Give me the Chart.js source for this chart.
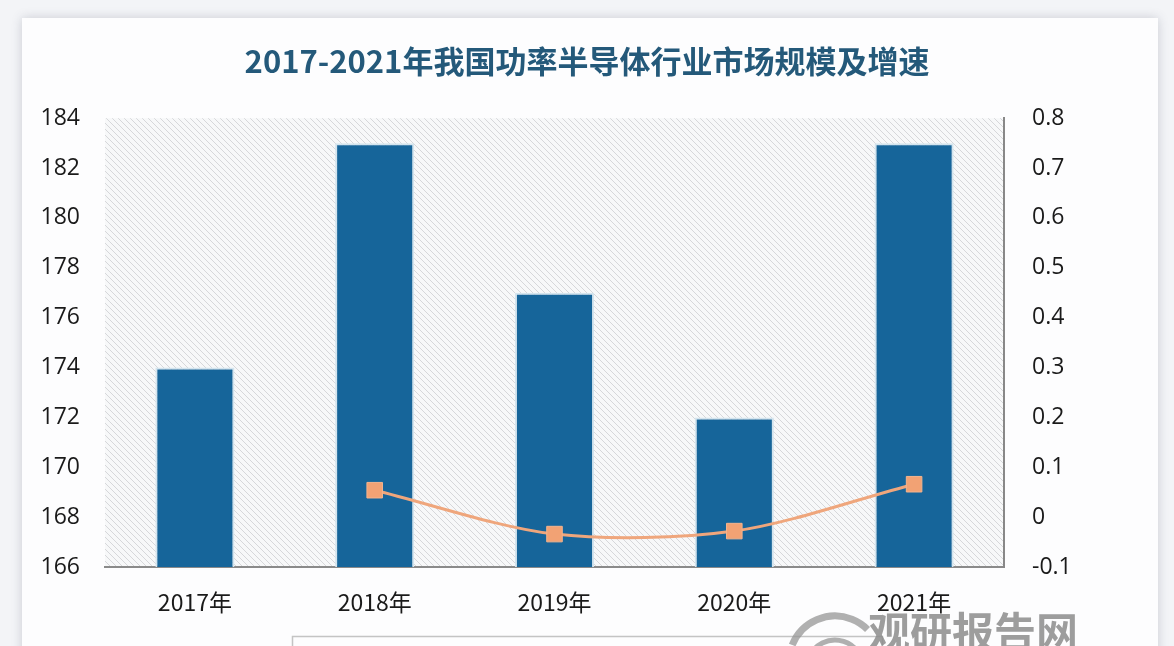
<!DOCTYPE html>
<html>
<head>
<meta charset="utf-8">
<script src="https://cdn.jsdelivr.net/npm/chart.js@4.4.1/dist/chart.umd.min.js"></script>
<style>
  html, body { margin: 0; padding: 0; width: 1174px; height: 646px; overflow: hidden; background: #f3f4f7; }
  #card { position: absolute; left: 22px; top: 18px; width: 1136px; height: 700px; background: #fdfdfe;
          box-shadow: 0 0 10px rgba(60, 70, 90, 0.22); }
  #wrap { position: absolute; left: 0; top: 0; width: 1174px; height: 700px; }
</style>
</head>
<body>
<div id="card"></div>
<div id="wrap"><canvas id="chart" width="1174" height="700"></canvas></div>
<script>
// values
var years = ['2017年', '2018年', '2019年', '2020年', '2021年'];
var marketSize = [174, 183, 177, 172, 183];
var growth = [null, 0.054, -0.034, -0.028, 0.066];
var leftTicks = [166, 184, 2];
var rightTicks = [-0.1, 0.8, 0.1];

/* hatched plot background */
function hatch() {
  var c = document.createElement('canvas');
  c.width = 6; c.height = 6;
  var g = c.getContext('2d');
  g.fillStyle = '#f7f8f9';
  g.fillRect(0, 0, 6, 6);
  g.strokeStyle = '#d6d7da';
  g.lineWidth = 1;
  g.beginPath();
  g.moveTo(-1, -1); g.lineTo(7, 7);
  g.moveTo(-1, 5); g.lineTo(1, 7);
  g.moveTo(5, -1); g.lineTo(7, 1);
  g.stroke();
  return g.createPattern(c, 'repeat');
}

var bgPlugin = {
  id: 'bg',
  beforeDraw: function(chart) {
    var a = chart.chartArea, ctx = chart.ctx;
    ctx.save();
    ctx.fillStyle = hatch();
    ctx.fillRect(a.left, a.top, a.right - a.left, a.bottom - a.top);
    ctx.restore();
  },
  afterDraw: function(chart) {
    var ctx = chart.ctx, lg = chart.legend;
    ctx.save();
    // legend frame
    ctx.strokeStyle = '#c4c4c4';
    ctx.lineWidth = 1.5;
    ctx.strokeRect(292.5, lg.top + 0.5, 590, lg.height);
    // watermark
    ctx.strokeStyle = 'rgba(150,150,150,0.75)';
    ctx.lineWidth = 7;
    ctx.beginPath();
    ctx.arc(835, 662, 46, Math.PI * 1.12, Math.PI * 1.75);
    ctx.stroke();
    ctx.lineWidth = 5;
    ctx.beginPath();
    ctx.arc(835, 668, 28, Math.PI * 1.1, Math.PI * 1.8);
    ctx.stroke();
    ctx.fillStyle = 'rgba(140,140,140,0.85)';
    ctx.font = 'bold 42px "Noto Sans CJK SC"';
    ctx.textBaseline = 'alphabetic';
    ctx.fillText('观研报告网', 868, 648);
    ctx.restore();
  }
};

new Chart(document.getElementById('chart'), {
  type: 'bar',
  data: {
    labels: years,
    datasets: [{
      type: 'line',
      label: '增速',
      data: growth,
      yAxisID: 'y1',
      borderColor: '#efa67c',
      backgroundColor: '#f2a274',
      borderWidth: 3,
      tension: 0.3,
      pointStyle: 'rect',
      pointRadius: 11,
      pointBorderColor: '#f4b48e',
      pointBorderWidth: 1,
      order: 0
    }, {
      label: '市场规模（亿美元）',
      data: marketSize,
      yAxisID: 'y',
      backgroundColor: '#16659a',
      borderColor: '#d3e4ee',
      borderWidth: 2,
      borderSkipped: 'bottom',
      categoryPercentage: 1,
      barPercentage: 0.44,
      order: 1
    }]
  },
  options: {
    responsive: false,
    animation: false,
    layout: { padding: { left: 0, right: 0, top: 0, bottom: 22 } },
    plugins: {
      title: {
        display: true,
        text: '2017-2021年我国功率半导体行业市场规模及增速',
        color: '#24597a',
        font: { family: '"Noto Sans CJK SC"', size: 31, weight: 'bold' },
        padding: { top: 43, bottom: 38 }
      },
      legend: {
        position: 'bottom',
        labels: {
          color: '#333',
          font: { family: '"Noto Sans CJK SC"', size: 18 },
          boxWidth: 30, boxHeight: 14,
          padding: 14
        }
      },
      tooltip: { enabled: false }
    },
    scales: {
      x: {
        grid: { display: false, drawTicks: false },
        border: { display: true, color: '#8a8a8a', width: 2 },
        ticks: { color: '#1a1a1a', padding: 21, font: { family: '"Noto Sans CJK SC"', size: 23 } },
        afterFit: function(s) { s.height = 69; }
      },
      y: {
        position: 'left',
        min: leftTicks[0], max: leftTicks[1],
        grid: { display: false, drawTicks: false },
        border: { display: false },
        ticks: { stepSize: leftTicks[2], padding: 25, color: '#1a1a1a',
                 font: { family: '"Open Sans"', size: 23 } },
        afterFit: function(s) { s.width = 105; }
      },
      y1: {
        position: 'right',
        min: rightTicks[0], max: rightTicks[1],
        grid: { display: false, drawOnChartArea: false, drawTicks: true, tickLength: 6, tickColor: '#888' },
        border: { display: true, color: '#888', width: 2 },
        ticks: { stepSize: rightTicks[2], padding: 22, color: '#1a1a1a',
                 font: { family: '"Open Sans"', size: 23 },
                 callback: function(v) { return Math.round(v * 10) / 10; } },
        afterFit: function(s) { s.width = 170; }
      }
    }
  },
  plugins: [bgPlugin]
});
</script>
</body>
</html>
